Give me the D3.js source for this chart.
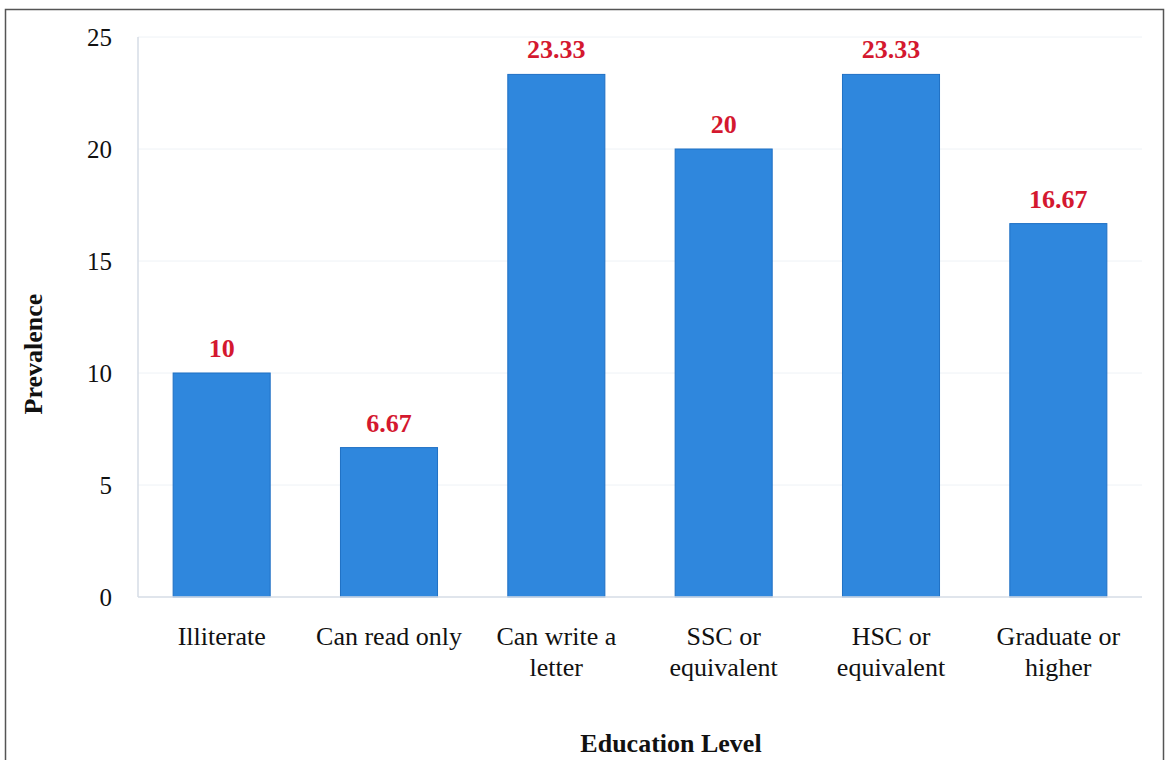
<!DOCTYPE html>
<html><head><meta charset="utf-8">
<script src="https://cdn.jsdelivr.net/npm/d3@7"></script>
<style>body{margin:0;background:#fff;}svg{display:block;}</style>
</head><body>
<script>
const categories = [["Illiterate"],["Can read only"],["Can write a","letter"],["SSC or","equivalent"],["HSC or","equivalent"],["Graduate or","higher"]];
const values = [10, 6.67, 23.33, 20, 23.33, 16.67];
const valueLabels = ["10","6.67","23.33","20","23.33","16.67"];
const yTicks = [0,5,10,15,20,25];

const W = 1168, H = 760;
const m = {left:138, right:1142, top:37, bottom:597};
const svg = d3.select("body").append("svg").attr("width",W).attr("height",H);
const font = "'Liberation Serif','Times New Roman',serif";

// outer frame
svg.append("path").attr("d","M5.5,770 V9.5 H1163.5 V770").attr("fill","none").attr("stroke","#555").attr("stroke-width",1.5);

const x = d3.scaleBand().domain(d3.range(categories.length)).range([m.left,m.right]).paddingInner(0.42).paddingOuter(0.21);
const y = d3.scaleLinear().domain([0,25]).range([m.bottom,m.top]);

// gridlines
svg.append("g").selectAll("line").data(yTicks.slice(1)).join("line")
  .attr("x1",m.left).attr("x2",m.right).attr("y1",d=>y(d)).attr("y2",d=>y(d))
  .attr("stroke","#eef2f6").attr("stroke-width",1);

// bars
svg.append("g").selectAll("rect").data(values).join("rect")
  .attr("x",(d,i)=>x(i)).attr("width",x.bandwidth())
  .attr("y",d=>y(d)).attr("height",d=>y(0)-y(d))
  .attr("fill","#2f87dd").attr("stroke","#1f70c4").attr("stroke-width",1);

// axes lines
svg.append("line").attr("x1",m.left).attr("x2",m.left).attr("y1",m.top).attr("y2",m.bottom).attr("stroke","#d6dde6").attr("stroke-width",1.5);
svg.append("line").attr("x1",m.left).attr("x2",m.right).attr("y1",m.bottom).attr("y2",m.bottom).attr("stroke","#d6dde6").attr("stroke-width",1.5);

// y tick labels
const yAxis = d3.axisLeft(y).tickValues(yTicks).tickSize(0).tickPadding(26);
const ga = svg.append("g").attr("transform",`translate(${m.left},0)`).call(yAxis);
ga.select(".domain").remove();
ga.selectAll("text").attr("font-family",font).attr("font-size",25).attr("fill","#111");

// value labels
svg.append("g").selectAll("text").data(values).join("text")
  .attr("x",(d,i)=>x(i)+x.bandwidth()/2).attr("y",d=>y(d)-16)
  .attr("text-anchor","middle").attr("font-family",font).attr("font-size",26).attr("font-weight","bold")
  .attr("fill","#d4182f").text((d,i)=>valueLabels[i]);

// category labels
const cg = svg.append("g").selectAll("text").data(categories).join("text")
  .attr("text-anchor","middle").attr("font-family",font).attr("font-size",26).attr("fill","#111");
cg.each(function(lines,i){
  d3.select(this).selectAll("tspan").data(lines).join("tspan")
    .attr("x",x(i)+x.bandwidth()/2).attr("y",(l,j)=>645+j*31).text(l=>l);
});

// axis titles
svg.append("text").attr("x",671).attr("y",752).attr("text-anchor","middle")
  .attr("font-family",font).attr("font-size",26).attr("font-weight","bold").attr("fill","#111").text("Education Level");
svg.append("text").attr("transform","translate(42,354) rotate(-90)").attr("text-anchor","middle")
  .attr("font-family",font).attr("font-size",26).attr("font-weight","bold").attr("fill","#111").text("Prevalence");
</script>
</body></html>
